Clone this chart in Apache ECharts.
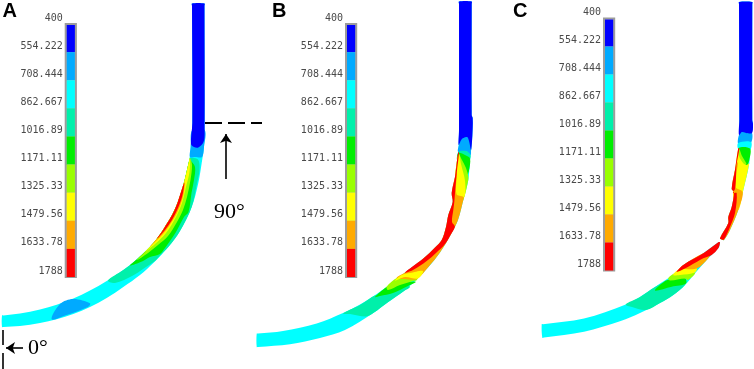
<!DOCTYPE html>
<html><head><meta charset="utf-8">
<style>html,body{margin:0;padding:0;background:#fff}#c{width:754px;height:369px;filter:blur(0.35px)}</style>
<script src="https://cdn.jsdelivr.net/npm/echarts@6/dist/echarts.min.js"></script>
</head><body><div id="c"></div>
<script>
// Contour levels and colours of the legend
const levels = [400,554.222,708.444,862.667,1016.89,1171.11,1325.33,1479.56,1633.78,1788];
const bandColors = ['#0000ff','#00aaff','#00ffff','#00f0aa','#00ee00','#99ff00','#ffff00','#ffaa00','#ff0000'];
const [BLUE,AZURE,CYAN,TEAL,GREEN,LIME,YELLOW,ORANGE,RED] = bandColors;

// Panel A regions
const A_body = [[192,6],[192,3.5],[204.5,3.5],[204.5,6],[204.7,130],[204,147],[201.7,163],[198.3,183],[191.7,207],[180,231],[168.3,247],[153.3,263],[140,275],[123.3,287],[106.7,298],[90,307],[73.3,314],[56.7,319.3],[40,323],[20,326],[3.5,327],[2,327],[2,315.5],[3.5,315.4],[20,313.5],[40,309.5],[56.7,304.8],[73.3,298.5],[90,290.5],[106.7,281],[123.3,270],[136.7,259.5],[150,246.7],[157,238.5],[163,230],[175,209],[183.3,185],[189.3,160],[190.7,147],[192.3,123]];
const A_azure = [[192.3,130],[204.7,130],[204,147],[202,157],[195,157],[190,157],[190.7,147]];
const A_blue = [[192,6],[192,3.5],[204.5,3.5],[204.5,6],[204.6,133],[203.5,142],[198.3,147.5],[194,147],[191,144],[192.3,123]];
const A_teal = [[190,158],[198,159.5],[199.5,170],[197,183],[191.7,207],[180,231],[168.3,247],[160,255.5],[155,261],[143,269],[133,275.5],[115,283],[108,280.5],[123.3,270],[136.7,259.5],[150,246.7],[157,238.5],[163,230],[175,209],[183.3,185],[189.3,160]];
const A_green = [[190,160],[195,167],[194,180],[191.5,193],[188.5,212],[184,217],[176,232],[170,241],[165,248],[160,254],[150,257],[142,261.5],[130,265.5],[136.7,259.5],[150,246.7],[157,238.5],[163,230],[175,209],[183.3,185],[189.3,160]];
const A_lime = [[190,158],[192,165],[190.5,180],[187,197],[183,210],[177,222],[168,236],[158,245],[148,253],[137,260],[150,246.7],[157,238.5],[163,230],[175,209],[183.3,185],[189.3,160]];
const A_yellow = [[190,157.5],[189.5,172],[186,187],[182,203],[176,217],[166,233],[155,244],[145,252],[150,246.7],[157,238.5],[163,230],[175,209],[183.3,185],[189.3,160]];
const A_orange = [[184.5,181],[184,192],[180,206],[173,220],[163,234],[155,242],[150,246.7],[157,238.5],[163,230],[175,209],[183.3,185]];
const A_red = [[184.5,183],[182,197],[178,208],[172,220],[165,230],[158,238],[157,238.5],[163,230],[175,209],[183.3,185]];
const A_lowPatch = [[51.7,319.3],[60,304],[73.3,299],[90,303.3],[88.3,306.7],[66.7,315]];

// Panel B regions
const B_body = [[459,4],[459,1.5],[471.7,1.5],[471.7,4],[471.7,115],[472.7,118],[472.7,128],[471.9,143],[470,160],[468.3,180],[463.3,200],[458,220],[451.7,233],[440,252.5],[428,267.5],[415,281],[403.3,291.5],[388.3,302],[373.3,313],[345,330],[320,338],[290,344.3],[258,347],[256.7,347],[256.7,333.7],[258,333.6],[283,331],[316.7,323.5],[343,313],[360,304.5],[376.7,294],[393.3,282],[405,272.5],[423.3,258.5],[435,247.5],[441.7,240],[446,227],[448.3,215],[452.7,202],[451.7,193],[455,177],[456.7,163],[458.3,152],[459,130]];
const B_blue = [[459,4],[459,1.5],[471.7,1.5],[471.7,4],[471.7,115],[472.7,118],[472.7,128],[471.9,143],[471,150],[469,141],[467,137],[462,139],[458.7,145],[459,130]];
const B_azure = [[458.7,146],[462,139],[467,137],[470,141],[471,150],[470.5,155],[466,151],[458.3,152]];
const B_teal = [[458.3,152],[466,151],[470.5,155],[470,160],[468.3,172],[462,165],[458,160]];
const B_green = [[458.5,153],[465,155],[470,158.5],[469,170],[467,175],[461,170],[457,160]];
const B_lime = [[458.5,154],[462,160],[466,168],[468.3,176],[468.3,180],[463.3,200],[459,205],[455,195],[455,177],[456.7,163]];
const B_yellow = [[459,154],[461,164],[465,181],[464.3,197],[457,197],[455,193],[455,177],[456.7,163]];
const B_orange = [[457,172],[456.5,194],[463.5,197],[463.3,200],[458,220],[451.7,233],[440,252.5],[428,267.5],[417,279],[410,279.5],[396.7,278],[405,272.5],[423.3,258.5],[435,247.5],[441.7,240],[446,227],[448.3,215],[452.7,202],[451.7,193],[455,177]];
const B_red = [[459,153],[456.7,173],[455,193],[454.3,202],[453.3,210],[452,222],[454.9,226.5],[451.7,233],[445,244],[436,253],[426.7,261],[413,270],[405,272.5],[423.3,258.5],[435,247.5],[441.7,240],[446,227],[448.3,215],[452.7,202],[451.7,193],[455,177],[456.7,163],[458.3,152]];
const B_lowTeal = [[343,313.5],[360,305],[376,295],[393,292],[406,285],[410,287],[403.3,291.5],[388.3,302],[373.3,313],[366,316.5],[350,314]];
const B_lowGreen = [[375,297],[386.7,287],[396.7,283],[414,281.5],[416,282],[408,286],[393,293],[380,296]];
const B_lowLime = [[386.7,286.5],[396.7,278],[403,277],[417,277],[417,280],[413,281],[400,285],[388,290]];
const B_lowYellow = [[395,280.7],[401.7,275],[410,273],[423,271],[418,278.5],[405,277]];

// Panel C regions (upper part)
const C_bodyTop = [[739,4],[739,2],[752.3,2],[752.3,4],[752.3,120],[753,124],[750,143],[749.3,163],[743.3,190],[738.3,210],[730,230],[724,240],[721.7,239.5],[720,238.3],[728.3,223],[728.3,217],[731.7,207],[734,192],[731.7,189],[735,170],[738.3,148],[739.3,120]];
const C_blue = [[739,4],[739,2],[752.3,2],[752.3,4],[752.3,120],[753,124],[752,133],[746,133],[742,132],[739,135],[739.3,120]];
const C_azure = [[739,135],[742,132],[746,133],[752,133],[751,143],[745,144],[738.3,144]];
const C_cyan = [[738.3,143],[751,142],[750.3,150],[745,150],[738.3,149]];
const C_green = [[738.8,148],[750,148.5],[749.3,160],[746.7,165],[741,158]];
const C_yellow = [[739.3,149],[741,157],[747.5,164],[749.3,163],[743.3,190],[738.3,210],[733,195],[735,170],[738.3,148]];
const C_lime = [[739.3,149],[742,156],[746.5,164],[744,164],[739,156]];
const C_orange = [[738,162],[735.5,187],[742.7,192],[738.3,210],[730,230],[724,240],[721.7,239.5],[720,238.3],[728.3,223],[728.3,217],[731.7,207],[734,192],[731.7,189],[735,170]];
const C_red = [[739.3,149],[736.5,165],[736,178],[735,189],[733,193],[736.7,193],[735,213],[730,227],[724,239.5],[721.7,239.5],[720,238.3],[728.3,223],[728.3,217],[731.7,207],[734,192],[731.7,189],[735,170],[738.3,148]];
// Panel C regions (lower part)
const C_bodyLow = [[718.3,242.3],[720,242.5],[718.3,248.3],[708.3,258.3],[695,273.3],[685,285],[673.3,295],[660,303],[640,313],[620.7,321],[584,331.7],[544,337.5],[542.3,337.7],[541.7,324.3],[543,324.2],[584,318.5],[625.7,304.5],[640,297],[655,287],[676.7,272],[683.3,265],[703.3,253.3]];
const C_lowTeal = [[625.7,304.5],[640,297],[655,287],[668,281],[685,282],[685,285],[673.3,295],[660,303],[646,310],[632,307]];
const C_lowGreen = [[655,290.5],[665,281],[670,279.5],[685,278.3],[686,283.5],[671.7,286.7]];
const C_lowLime = [[668.3,278],[676.7,272.5],[695,272.8],[688,280],[685,278.5],[670,280.5]];
const C_lowYellow = [[673,275],[680,269],[696.7,268.3],[695,272.5],[680,275]];
const C_lowOrange = [[678,270.5],[683.3,265],[703.3,253.3],[711,252],[708.3,258.3],[696.7,268.6],[683,269]];
const C_lowRed = [[676.7,272],[683.3,265],[703.3,253.3],[718.3,242.3],[720,242.5],[718.3,248.3],[711.7,255],[703.3,258.3],[690,265.7]];

const regions = [
  [CYAN,A_body],[AZURE,A_azure],[BLUE,A_blue],[TEAL,A_teal],[GREEN,A_green],[LIME,A_lime],[YELLOW,A_yellow],[ORANGE,A_orange],[RED,A_red],[AZURE,A_lowPatch],
  [CYAN,B_body],[AZURE,B_azure],[BLUE,B_blue],[TEAL,B_teal],[GREEN,B_green],[LIME,B_lime],[YELLOW,B_yellow],[TEAL,B_lowTeal],[GREEN,B_lowGreen],[LIME,B_lowLime],[ORANGE,B_orange],[YELLOW,B_lowYellow],[RED,B_red],
  [CYAN,C_bodyTop],[AZURE,C_azure],[BLUE,C_blue],[CYAN,C_cyan],[YELLOW,C_yellow],[GREEN,C_green],[LIME,C_lime],[ORANGE,C_orange],[RED,C_red],
  [CYAN,C_bodyLow],[TEAL,C_lowTeal],[GREEN,C_lowGreen],[LIME,C_lowLime],[YELLOW,C_lowYellow],[ORANGE,C_lowOrange],[RED,C_lowRed]
];

// Text and annotations
const panelLetters = [['A',2.5,11],['B',272,11],['C',513,11]];
const angleLabels = [['90°',214,212],['0°',28,348]];
const dashLine = [[205,123],[262,123]];
const zeroMarkTop = [[3,330],[3,345]];
const zeroMarkLow = [[3,353],[3,369]];
const arrows = [[[226,179],[226,134]],[[23,348],[6,348]]];

// Colour bar placement per panel [left, top, height]
const bars = [[65.7,24,253],[346,24,253],[604,18.5,252]];

const bandData = bandColors.map((c,i)=>[levels[i],levels[i+1],c]);
const grids = [{left:0,top:0,width:754,height:369,show:false}];
const xAxes = [{type:'value',gridIndex:0,min:0,max:754,show:false}];
const yAxes = [{type:'value',gridIndex:0,min:0,max:369,inverse:true,show:false}];
const series = [];
bars.forEach((b,i)=>{
  const k=i+1;
  grids.push({left:b[0],top:b[1],width:10.2,height:b[2],show:true,borderColor:'#9c9c9c',borderWidth:2,backgroundColor:'#bbb'});
  xAxes.push({type:'value',gridIndex:k,min:0,max:1,show:false});
  yAxes.push({type:'value',gridIndex:k,min:400,max:1788,inverse:true,splitLine:{show:false},axisLine:{show:false},axisTick:{show:false},
    axisLabel:{show:true,customValues:levels,margin:3,color:'#4a4a4a',fontFamily:'DejaVu Sans Mono',fontSize:10,verticalAlign:'bottom',lineHeight:12,hideOverlap:false,formatter:v=>String(v)}});
  series.push({type:'custom',xAxisIndex:k,yAxisIndex:k,clip:false,silent:true,data:bandData,
    renderItem:(p,api)=>{
      const d=bandData[p.dataIndex];
      const a=api.coord([0,d[0]]),c=api.coord([1,d[1]]);
      return {type:'rect',shape:{x:a[0]+1,y:a[1]+(p.dataIndex==0?1:0),width:c[0]-a[0]-2,height:c[1]-a[1]-(p.dataIndex==0?1:0)},style:{fill:d[2]}};
    }});
});

series.push({type:'custom',xAxisIndex:0,yAxisIndex:0,silent:true,clip:false,data:regions.map((r,i)=>[i]),
  renderItem:(p,api)=>{
    const r=regions[p.dataIndex];
    return {type:'polygon',shape:{points:r[1].map(q=>api.coord(q)),smooth:0.33},style:{fill:r[0]}};
  }});
[dashLine].forEach(d=>series.push({type:'line',xAxisIndex:0,yAxisIndex:0,silent:true,symbol:'none',data:d,lineStyle:{color:'#000',width:2,type:[17,6]}}));
[zeroMarkTop,zeroMarkLow].forEach(d=>series.push({type:'line',xAxisIndex:0,yAxisIndex:0,silent:true,symbol:'none',data:d,lineStyle:{color:'#000',width:1.6}}));
series.push({type:'lines',coordinateSystem:'cartesian2d',xAxisIndex:0,yAxisIndex:0,silent:true,symbol:['none','arrow'],symbolSize:9,
  lineStyle:{color:'#000',width:1.6,opacity:1},data:arrows.map(a=>({coords:a}))});
const texts=(arr,font)=>({type:'custom',xAxisIndex:0,yAxisIndex:0,silent:true,clip:false,data:arr.map((t,i)=>[i]),
  renderItem:(p,api)=>{
    const t=arr[p.dataIndex],c=api.coord([t[1],t[2]]);
    return {type:'text',x:c[0],y:c[1],style:{text:t[0],font:font,fill:'#000',align:'left',verticalAlign:'middle'}};
  }});
series.push(texts(panelLetters,'bold 20px "Liberation Sans"'));
series.push(texts(angleLabels,'22px "Liberation Serif"'));

const chart=echarts.init(document.getElementById('c'),null,{renderer:'canvas',width:754,height:369});
chart.setOption({animation:false,backgroundColor:'#fff',grid:grids,xAxis:xAxes,yAxis:yAxes,series:series});
</script></body></html>
